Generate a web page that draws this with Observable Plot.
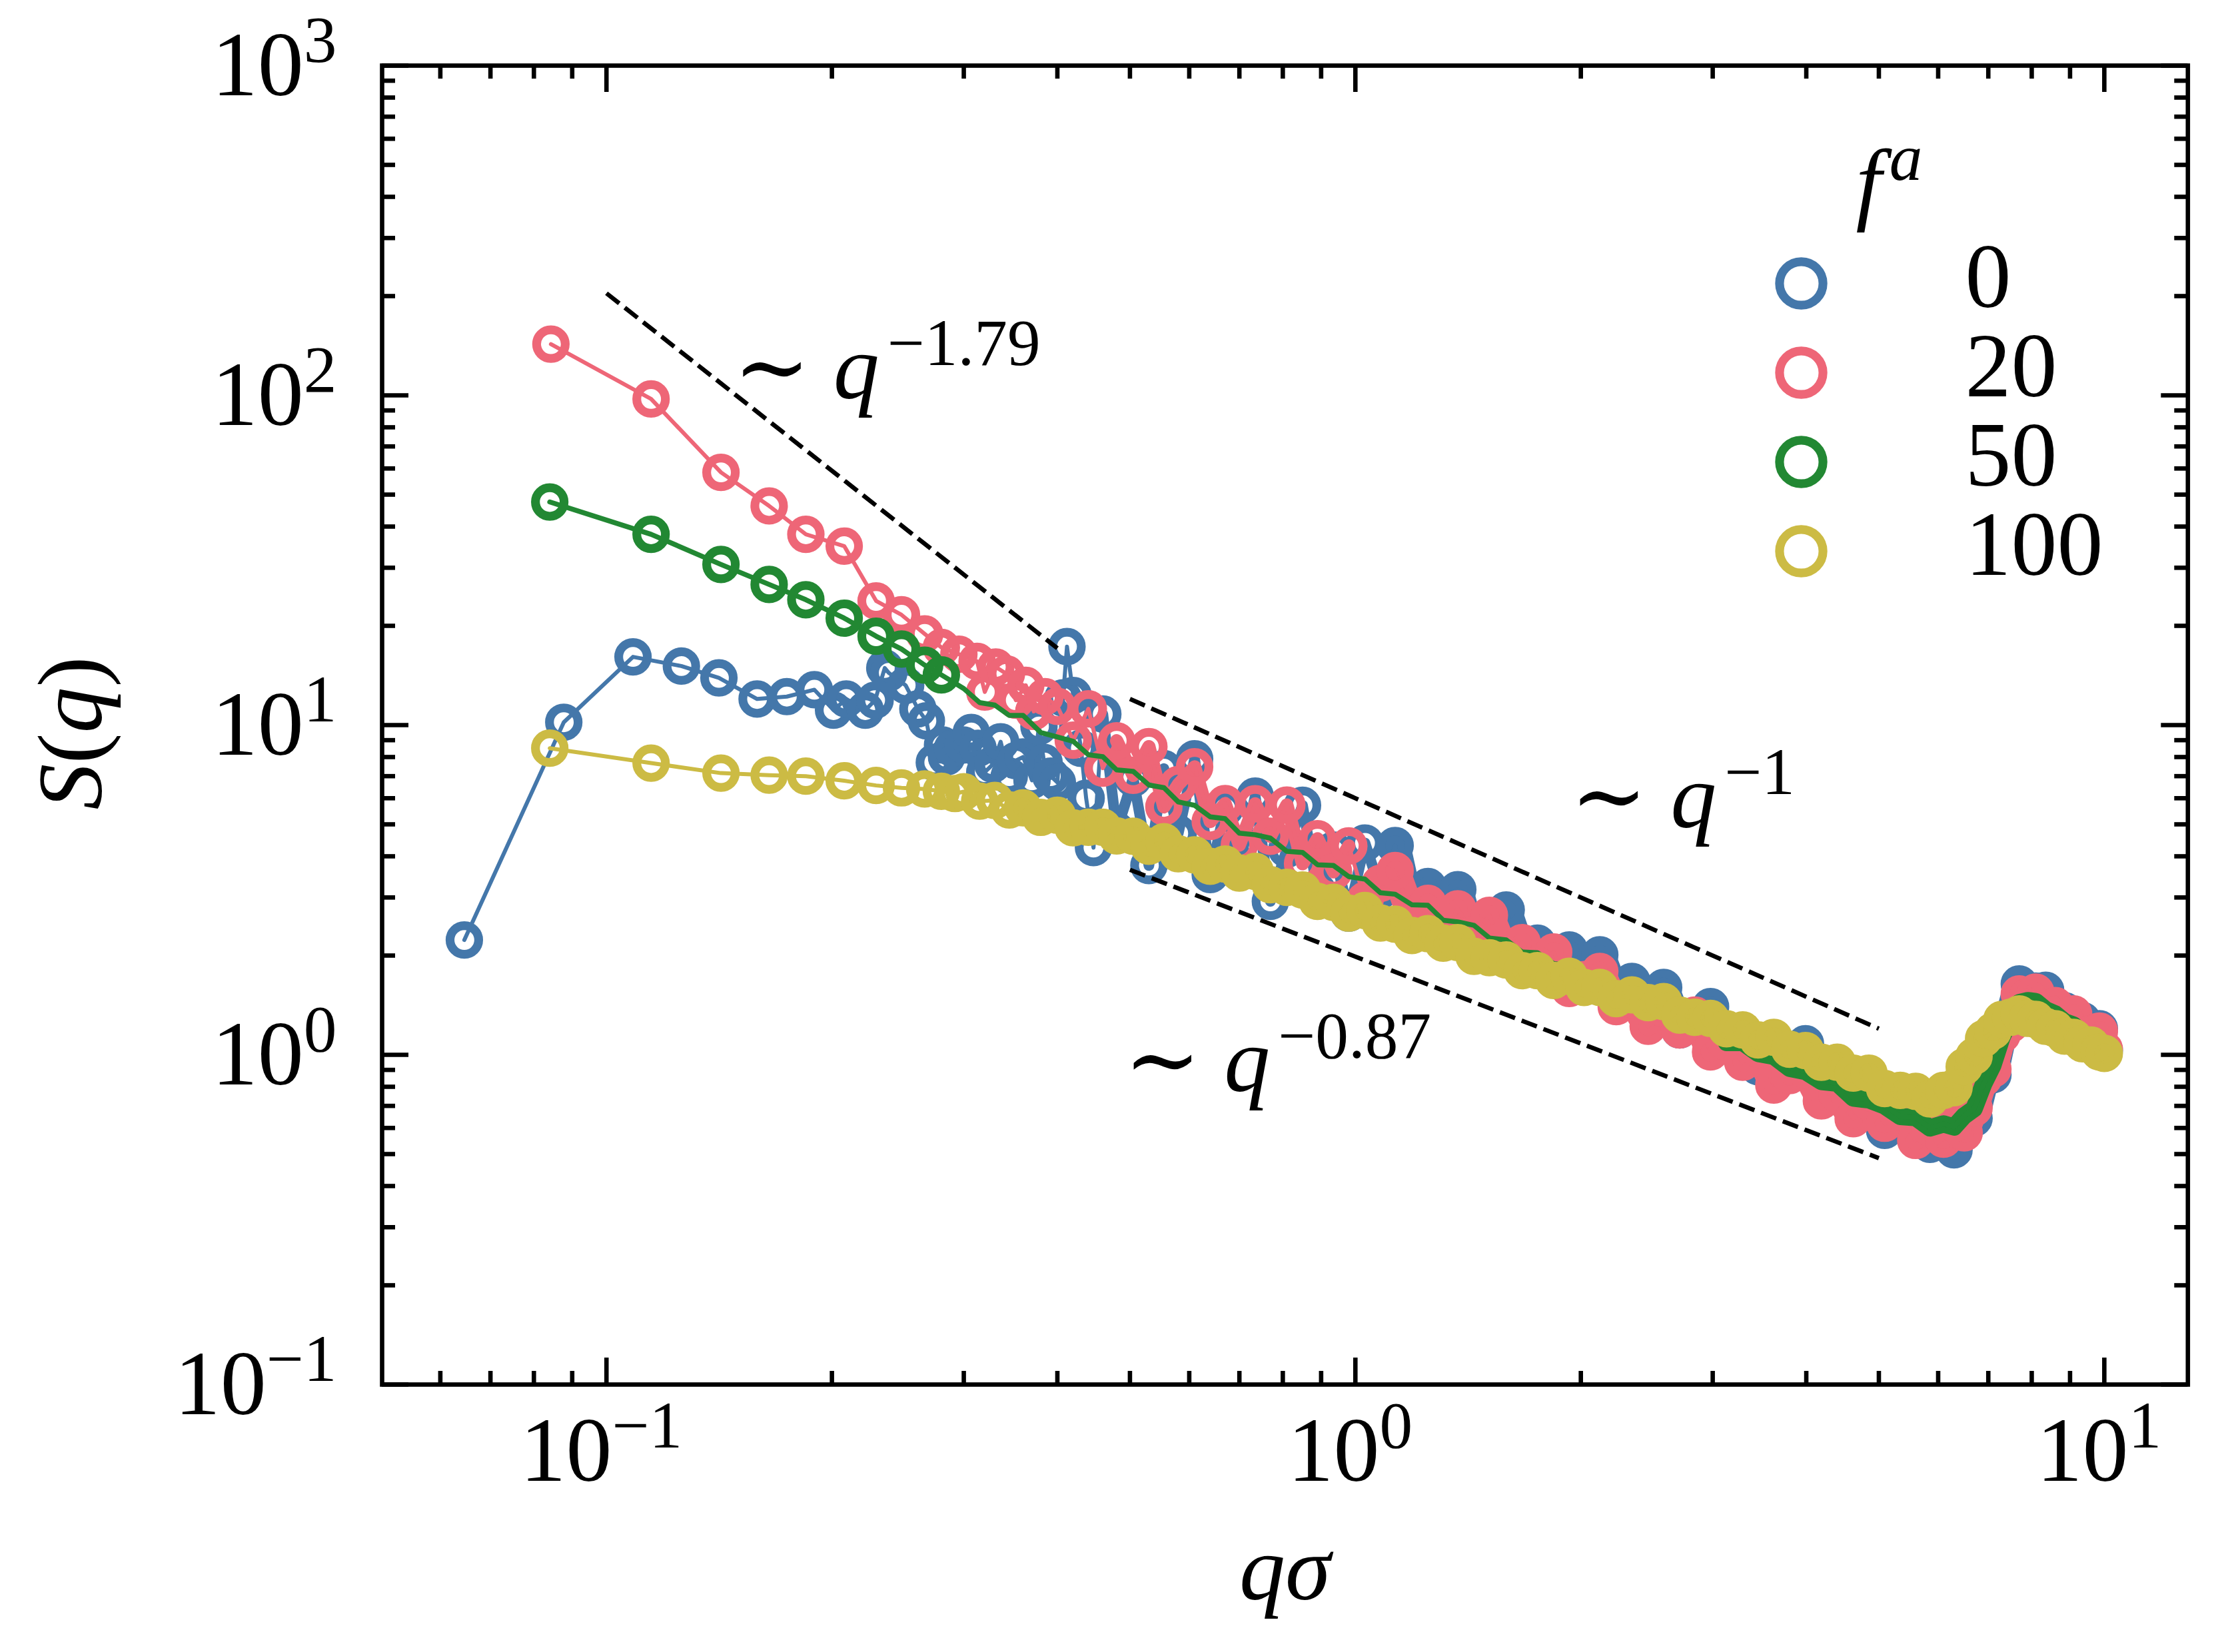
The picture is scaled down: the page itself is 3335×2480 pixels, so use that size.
<!DOCTYPE html>
<html><head><meta charset="utf-8">
<script src="https://cdn.jsdelivr.net/npm/d3@7"></script>
<script src="https://cdn.jsdelivr.net/npm/@observablehq/plot@0.6"></script>
<style>html,body{margin:0;padding:0;background:#fff;overflow:hidden}</style>
</head><body><div id="chart"></div>
<script>
// ---------------- data ----------------
const seriesNames = ["0", "20", "50", "100"];
const seriesColors = ["#4477AA", "#EE6677", "#228833", "#CCBB44"];

// low-q, well separated points
const blueQlow = [0.0646,0.0877,0.1085,0.1259,0.1413,0.1589,0.1741,0.1895,0.201,0.209,0.2216,0.2284,0.2353,0.2382,0.2509,0.2605,0.2674,0.274,0.281,0.2845,0.2898,0.2995,0.307,0.3134,0.32,0.328,0.336,0.345,0.352,0.36,0.37,0.378,0.384,0.392,0.40,0.407,0.412,0.42,0.43,0.437,0.447];
const blueSlow = [2.23,10.2,16.1,15.1,13.9,12.0,12.2,12.8,11.1,12.0,11.1,11.9,14.9,14.4,13.2,11.2,10.3,7.7,8.7,8.0,8.5,8.7,9.5,8.5,7.2,7.6,8.9,7.0,7.8,8.0,6.8,9.9,7.7,7.0,6.7,12.1,17.3,12.3,8.5,6.0,4.25];
const redQlow = [0.0843,0.1147,0.1422,0.1649,0.1846,0.2077,0.2291,0.2477,0.266,0.28,0.2955,0.3125,0.32,0.331,0.342,0.352,0.363,0.372,0.385];
const redSlow = [143,97.5,58.4,46.2,37.9,34.9,23.8,21.6,18.9,17.2,16.4,15.6,12.6,15.0,14.3,11.9,13.2,11.0,12.2];
const greenQlow = [0.0840,0.1147,0.1422,0.1649,0.1846,0.2077,0.2291,0.2477,0.266,0.28];
const greenSlow = [47.5,37.9,30.7,26.7,24.0,21.1,18.6,17.0,15.2,14.2];
const yellowQlow = [0.0840,0.1147,0.1422,0.1649,0.1846,0.2077,0.2291,0.2477,0.266,0.28,0.292];
const yellowSlow = [8.51,7.67,7.15,7.05,7.0,6.78,6.56,6.45,6.4,6.3,6.2];

// dense part: shared q grid
const qGrid = [0.30,0.315,0.33,0.345,0.36,0.38,0.40,0.42,0.44,0.46,0.48,0.505,0.53,0.555,0.58,0.61,0.64,0.67,0.70,0.735,0.77,0.81,0.85,0.89,0.935,0.98,1.03,1.08,1.13,1.19,1.25,1.31,1.37,1.44,1.51,1.59,1.67,1.75,1.84,1.93,2.02,2.12,2.23,2.34,2.46,2.58,2.71,2.84,2.98,3.13,3.29,3.45,3.62,3.8,3.99,4.19,4.4,4.62,4.85,5.09,5.34,5.6,5.85,6.1,6.3,6.5,6.7,6.9,7.1,7.3,7.5,7.7,7.9,8.1,8.35,8.6,8.85,9.1,9.35,9.6,9.85,10.0];
// blue starts at q = 0.46, red at q = 0.40, green and yellow at q = 0.30
const blueBand = [10.8,4.78,6.9,3.75,7.38,4.69,7.9,3.52,5.6,3.78,6.09,2.92,4.2,5.71,3.14,4.18,2.69,4.39,3.15,4.31,2.53,3.24,2.51,3.17,2.09,2.45,2.75,1.98,2.18,1.71,2.08,1.76,2.01,1.49,1.67,1.40,1.60,1.19,1.30,1.40,1.07,1.15,0.92,1.12,0.92,1.08,0.765,0.875,0.715,0.81,0.59,0.64,0.665,0.535,0.57,0.515,0.634,0.642,0.844,0.87,1.17,1.31,1.64,1.49,1.56,1.57,1.34,1.36,1.19,1.27,1.15,1.20,1.03];
const redBand = [11.4,9.0,11.2,7.4,8.96,7.04,8.6,5.65,6.6,7.47,5.1,5.78,4.33,5.77,4.6,5.72,3.8,4.52,3.59,4.3,2.94,3.31,3.62,2.63,2.88,2.27,2.77,2.32,2.65,1.99,2.19,1.87,2.05,1.59,1.69,1.79,1.40,1.47,1.22,1.38,1.19,1.32,1.02,1.09,0.95,1.04,0.81,0.865,0.9,0.725,0.76,0.64,0.72,0.62,0.67,0.55,0.6,0.555,0.62,0.58,0.69,0.85,0.905,1.15,1.24,1.53,1.50,1.55,1.36,1.41,1.28,1.33,1.12,1.16,1.18,1.04];
const greenBand = [12.9,11.7,11.5,10.7,10.7,9.5,9.2,8.93,8.13,8.02,7.31,7.24,6.58,6.46,5.85,5.71,5.27,5.2,4.7,4.65,4.54,4.14,4.11,3.77,3.75,3.47,3.41,3.1,3.07,2.85,2.84,2.56,2.53,2.47,2.26,2.23,2.05,2.04,1.89,1.87,1.7,1.68,1.56,1.55,1.39,1.36,1.33,1.22,1.2,1.09,1.09,1.01,0.99,0.91,0.89,0.83,0.82,0.74,0.73,0.7,0.65,0.645,0.6,0.617,0.604,0.653,0.686,0.816,0.93,1.13,1.29,1.44,1.46,1.45,1.37,1.33,1.26,1.23,1.16,1.14,1.08,1.07];
const yellowBand = [6.28,5.88,5.91,5.53,5.61,5.25,5.33,4.88,4.9,4.9,4.61,4.6,4.29,4.43,4.07,4.04,3.73,3.79,3.56,3.6,3.28,3.22,3.16,2.92,2.9,2.69,2.74,2.51,2.49,2.3,2.33,2.18,2.19,1.99,1.97,1.94,1.8,1.8,1.68,1.73,1.6,1.6,1.48,1.52,1.44,1.45,1.32,1.3,1.29,1.2,1.19,1.11,1.13,1.04,1.03,0.95,0.95,0.88,0.88,0.79,0.78,0.775,0.735,0.78,0.795,0.92,0.99,1.12,1.18,1.28,1.3,1.33,1.29,1.28,1.22,1.2,1.14,1.13,1.08,1.07,1.02,1.01];

// power-law guide lines (end points)
const guide179Q = [0.1, 0.4],  guide179S = [204, 17.1];
const guide1Q   = [0.5, 5],    guide1S   = [12.0, 1.2];
const guide087Q = [0.5, 5],    guide087S = [3.64, 0.486];
const annText = ["∼ *q*^−1.79", "∼ *q*^−1", "∼ *q*^−0.87"];
const annQ = [0.1477, 1.937, 0.491];
const annS = [120, 6.0, 0.955];

// axes
const xMajor = [0.1, 1, 10];
const xTickLabels = ["10^−1", "10^0", "10^1"];
const xMinor = [0.06,0.07,0.08,0.09,0.2,0.3,0.4,0.5,0.6,0.7,0.8,0.9,2,3,4,5,6,7,8,9];
const yMajor = [0.1, 1, 10, 100, 1000];
const yTickLabels = ["10^−1", "10^0", "10^1", "10^2", "10^3"];
const yMinor = [0.2,0.3,0.4,0.5,0.6,0.7,0.8,0.9,2,3,4,5,6,7,8,9,20,30,40,50,60,70,80,90,200,300,400,500,600,700,800,900];
const xLabel = "*qσ*", yLabel = "*S*(*q*)", legendTitle = "*f*^*a*";

// ---------------- layout ----------------
const W = 3335, H = 2480;
const mL = 573, mR = 51.7, mT = 98, mB = 402;
const plotW = W - mL - mR, plotH = H - mT - mB;
const FONT = "'Liberation Serif','DejaVu Serif',serif";
const FS = 138;
const LW = 6.6;
const MAJ = 40, MIN = 20;
const txt = {fontSize: FS, fontFamily: FONT, lineAnchor: "middle", fill: "black"};

const zip = (qs, ss) => qs.map((q, i) => ({q, S: ss[i]}));
// fills: [from q, to q, stroke width] — overlapping markers of the dense data
const series = [
  {pts: zip(blueQlow, blueSlow).concat(zip(qGrid.slice(9), blueBand)), fills: [[0.46, 1.1, 16], [1.1, 99, 46]], ringsTo: Infinity, lw: 6},
  {pts: zip(redQlow, redSlow).concat(zip(qGrid.slice(6), redBand)), fills: [[0.48, 1.0, 20], [1.0, 99, 44]], ringsTo: Infinity, lw: 6},
  {pts: zip(greenQlow, greenSlow).concat(zip(qGrid, greenBand)), fills: [[3.0, 99, 26]], ringsTo: 0.29, lw: 7.5},
  {pts: zip(yellowQlow, yellowSlow).concat(zip(qGrid, yellowBand)), fills: [[0.36, 99, 44]], ringsTo: Infinity, lw: 6}
];

const marks = [];
series.forEach((s, k) => {
  const c = seriesColors[k];
  s.fills.forEach(([a, b, w]) => {
    marks.push(Plot.line(s.pts.filter(p => p.q >= a && p.q <= b), {x: "q", y: "S", stroke: c, strokeWidth: w, strokeLinejoin: "round", strokeLinecap: "round"}));
  });
  marks.push(Plot.line(s.pts, {x: "q", y: "S", stroke: c, strokeWidth: s.lw, strokeLinejoin: "round"}));
  marks.push(Plot.dot(s.pts.filter(p => p.q <= s.ringsTo), {x: "q", y: "S", r: 21.5, stroke: c, strokeWidth: 13.2, fill: "none"}));
});

// guides
[[guide179Q, guide179S], [guide1Q, guide1S], [guide087Q, guide087S]].forEach(([qs, ss]) => {
  marks.push(Plot.line(zip(qs, ss), {x: "q", y: "S", stroke: "black", strokeWidth: LW, strokeDasharray: "24.4,10.6", strokeLinecap: "butt"}));
});
marks.push(Plot.text(annText, {x: (d, i) => annQ[i], y: (d, i) => annS[i], text: d => d, textAnchor: "start", ...txt}));

// legend
marks.push(Plot.text([legendTitle], {frameAnchor: "top-left", dx: 2212, dy: 177, text: d => d, textAnchor: "start", ...txt}));
seriesNames.forEach((name, i) => {
  marks.push(Plot.dot([name], {frameAnchor: "top-left", dx: 2130, dy: 327 + 134 * i, r: 32.6, stroke: seriesColors[i], strokeWidth: 13.2, fill: "none"}));
  marks.push(Plot.text([name], {frameAnchor: "top-left", dx: 2376, dy: 318 + 134 * i, text: d => d, textAnchor: "start", ...txt}));
});

// frame + inward ticks on all four sides
const tick = {stroke: "black", strokeWidth: LW, strokeLinecap: "butt"};
marks.push(Plot.ruleX(xMajor, {x: d => d, insetTop: plotH - MAJ, ...tick}));
marks.push(Plot.ruleX(xMajor, {x: d => d, insetBottom: plotH - MAJ, ...tick}));
marks.push(Plot.ruleX(xMinor, {x: d => d, insetTop: plotH - MIN, ...tick}));
marks.push(Plot.ruleX(xMinor, {x: d => d, insetBottom: plotH - MIN, ...tick}));
marks.push(Plot.ruleY(yMajor, {y: d => d, insetRight: plotW - MAJ, ...tick}));
marks.push(Plot.ruleY(yMajor, {y: d => d, insetLeft: plotW - MAJ, ...tick}));
marks.push(Plot.ruleY(yMinor, {y: d => d, insetRight: plotW - MIN, ...tick}));
marks.push(Plot.ruleY(yMinor, {y: d => d, insetLeft: plotW - MIN, ...tick}));
marks.push(Plot.frame({stroke: "black", strokeWidth: LW}));

// tick labels & axis labels
marks.push(Plot.text(xMajor, {x: d => d, text: (d, i) => xTickLabels[i], frameAnchor: "bottom", dy: 100, dx: -8, textAnchor: "middle", ...txt}));
marks.push(Plot.text(yMajor, {y: d => d, text: (d, i) => yTickLabels[i], frameAnchor: "left", dx: -68, textAnchor: "end", ...txt}));
marks.push(Plot.text([xLabel], {frameAnchor: "bottom", dy: 278, text: d => d, textAnchor: "middle", ...txt}));
marks.push(Plot.text([yLabel], {frameAnchor: "left", dx: -466, dy: 12, rotate: -90, text: d => d, textAnchor: "middle", ...txt}));

const chart = Plot.plot({
  width: W, height: H,
  marginLeft: mL, marginRight: mR, marginTop: mT, marginBottom: mB,
  x: {type: "log", domain: [0.050166, 12.93], axis: null},
  y: {type: "log", domain: [0.1, 1000], axis: null},
  style: {background: "white", fontFamily: FONT},
  marks
});

// superscripts (^) and math italics (*...*) as real tspans
const NS = "http://www.w3.org/2000/svg";
function addRuns(parent, s) {
  s.split("*").forEach((seg, i) => {
    if (!seg) return;
    const t = document.createElementNS(NS, "tspan");
    if (i % 2) t.setAttribute("font-style", "italic");
    t.textContent = seg;
    parent.appendChild(t);
  });
}
d3.select(chart).selectAll("text").each(function () {
  const str = this.textContent;
  if (!/[\^*]/.test(str)) return;
  const parts = str.split("^");
  this.textContent = "";
  addRuns(this, parts[0]);
  if (parts.length > 1) {
    const sup = document.createElementNS(NS, "tspan");
    sup.setAttribute("dy", "-50");
    sup.setAttribute("font-size", "72%");
    if (parts[0].endsWith("*")) sup.setAttribute("dx", "12");
    this.appendChild(sup);
    addRuns(sup, parts[1]);
  }
});
document.getElementById("chart").appendChild(chart);
</script>
</body></html>
